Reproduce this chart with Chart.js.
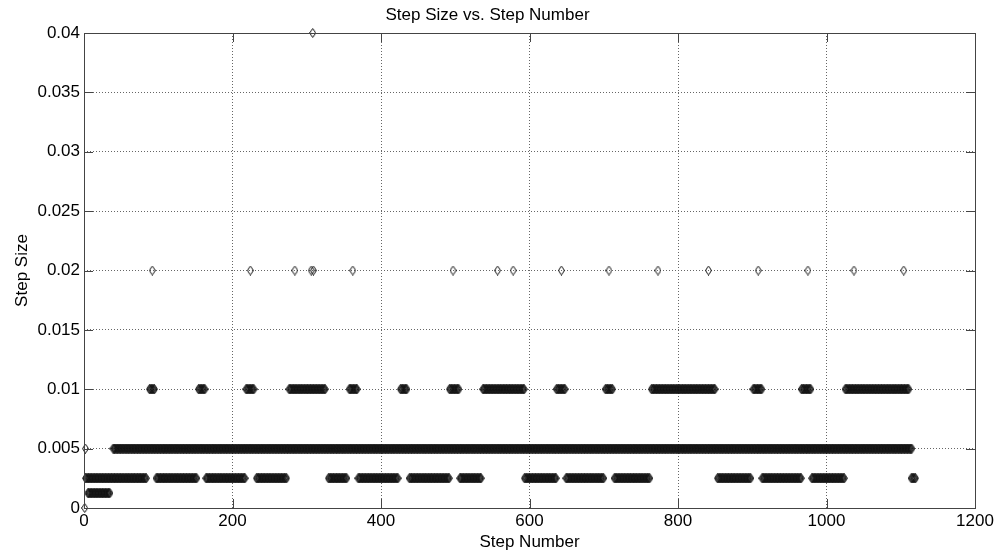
<!DOCTYPE html>
<html>
<head>
<meta charset="utf-8">
<title>Step Size vs. Step Number</title>
<script src="https://cdn.jsdelivr.net/npm/chart.js@4.4.1/dist/chart.umd.min.js"></script>
<style>
  html, body { margin: 0; padding: 0; background: #fff; }
  #wrap { width: 1001px; height: 556px; position: relative; }
</style>
</head>
<body>
<div id="wrap"><canvas id="chartStepSize"></canvas></div>
<script>
// step sizes, stored as runs of consecutive step numbers [first, last]
var zeroSteps = [1];
var runsEighth = [[5, 35]];                      // 0.00125
var runsQuarter = [[2, 84], [97, 152], [164, 217], [232, 273], [329, 354], [369, 423],
                   [438, 492], [506, 535], [593, 636], [649, 700], [714, 762], [853, 898],
                   [913, 966], [980, 1024], [1114, 1120]];   // 0.0025
var runsHalf = [[2, 2], [39, 1115]];             // 0.005
var runsOne = [[88, 95], [154, 163], [218, 229], [276, 325], [357, 368], [426, 435],
               [492, 505], [537, 593], [636, 648], [702, 712], [764, 850], [901, 913],
               [966, 979], [1025, 1111]];        // 0.01
var stepsTwo = [92, 224, 284, 306, 309, 362, 497, 557, 578, 643, 707, 773, 841, 908, 975, 1037, 1104]; // 0.02
var stepsFour = [308];                           // 0.04

var xTicks = [0, 200, 400, 600, 800, 1000, 1200];
var yTicks = [0, 0.005, 0.01, 0.015, 0.02, 0.025, 0.03, 0.035, 0.04];

function fromRuns(runs, size) {
    var pts = [];
    runs.forEach(function(r) {
        for (var s = r[0]; s <= r[1]; s++) pts.push({x: s, y: size});
    });
    return pts;
}
function fromSteps(steps, size) {
    return steps.map(function(s) { return {x: s, y: size}; });
}

var allPoints = []
    .concat(fromSteps(zeroSteps, 0))
    .concat(fromRuns(runsEighth, 0.00125))
    .concat(fromRuns(runsQuarter, 0.0025))
    .concat(fromRuns(runsHalf, 0.005))
    .concat(fromRuns(runsOne, 0.01))
    .concat(fromSteps(stepsTwo, 0.02))
    .concat(fromSteps(stepsFour, 0.04));

// open diamond marker, a bit taller than wide like the matlab 'd' marker
var diamond = document.createElement('canvas');
diamond.width = 7; diamond.height = 10;
var dctx = diamond.getContext('2d');
dctx.strokeStyle = '#111';
dctx.lineWidth = 1;
dctx.beginPath();
dctx.moveTo(3.5, 0.5);
dctx.lineTo(6.5, 5);
dctx.lineTo(3.5, 9.5);
dctx.lineTo(0.5, 5);
dctx.closePath();
dctx.stroke();

// axes box and inward tick marks
var boxPlugin = {
    id: 'matlabBox',
    afterDraw: function(chart) {
        var ctx = chart.ctx, a = chart.chartArea, tl = 9;
        var xs = chart.scales.x, ys = chart.scales.y;
        ctx.save();
        ctx.strokeStyle = '#444';
        ctx.lineWidth = 1;
        ctx.beginPath();
        xTicks.forEach(function(v) {
            var px = Math.round(xs.getPixelForValue(v)) + 0.5;
            ctx.moveTo(px, a.bottom); ctx.lineTo(px, a.bottom - tl);
            ctx.moveTo(px, a.top); ctx.lineTo(px, a.top + tl);
        });
        yTicks.forEach(function(v) {
            var py = Math.round(ys.getPixelForValue(v)) + 0.5;
            ctx.moveTo(a.left, py); ctx.lineTo(a.left + tl, py);
            ctx.moveTo(a.right, py); ctx.lineTo(a.right - tl, py);
        });
        ctx.stroke();
        ctx.strokeRect(Math.round(a.left) + 0.5, Math.round(a.top) + 0.5,
                       Math.round(a.right - a.left), Math.round(a.bottom - a.top));
        ctx.restore();
    }
};

Chart.defaults.font.family = '"Liberation Sans", Arial, Helvetica, sans-serif';
Chart.defaults.color = '#000';

var ctx = document.getElementById('chartStepSize');
var stepChart = new Chart(ctx, {
    type: 'scatter',
    data: {
        datasets: [{
            label: 'Step Size',
            data: allPoints,
            pointStyle: diamond,
            pointRadius: 4,
            showLine: false,
            clip: false
        }]
    },
    plugins: [boxPlugin],
    options: {
        responsive: true,
        maintainAspectRatio: false,
        animation: false,
        events: [],
        layout: { padding: { left: 0, right: 26, top: 0, bottom: 0 } },
        plugins: {
            legend: { display: false },
            tooltip: { enabled: false },
            title: {
                display: true,
                text: 'Step Size vs. Step Number',
                font: { size: 17, weight: 'normal' },
                padding: { top: 4.8, bottom: 7.8 }
            }
        },
        scales: {
            x: {
                type: 'linear',
                min: 0,
                max: 1200,
                afterBuildTicks: function(s) { s.ticks = xTicks.map(function(v) { return {value: v}; }); },
                afterFit: function(s) { s.height = 48; },
                ticks: {
                    font: { size: 17 },
                    padding: 3,
                    maxRotation: 0,
                    callback: function(v) { return String(v); }
                },
                grid: { color: '#666', drawTicks: false },
                border: { display: false, dash: [1, 2] },
                title: { display: true, text: 'Step Number', font: { size: 17 }, padding: { top: 0, bottom: 3.8 } }
            },
            y: {
                type: 'linear',
                min: 0,
                max: 0.04,
                afterBuildTicks: function(s) { s.ticks = yTicks.map(function(v) { return {value: v}; }); },
                afterFit: function(s) { s.width = 84; },
                ticks: {
                    font: { size: 17 },
                    padding: 4,
                    callback: function(v) { return String(+v.toFixed(4)); }
                },
                grid: { color: '#666', drawTicks: false },
                border: { display: false, dash: [1, 2] },
                title: { display: true, text: 'Step Size', font: { size: 17 }, padding: { top: 11.8, bottom: 0 } }
            }
        }
    }
});
</script>
</body>
</html>
